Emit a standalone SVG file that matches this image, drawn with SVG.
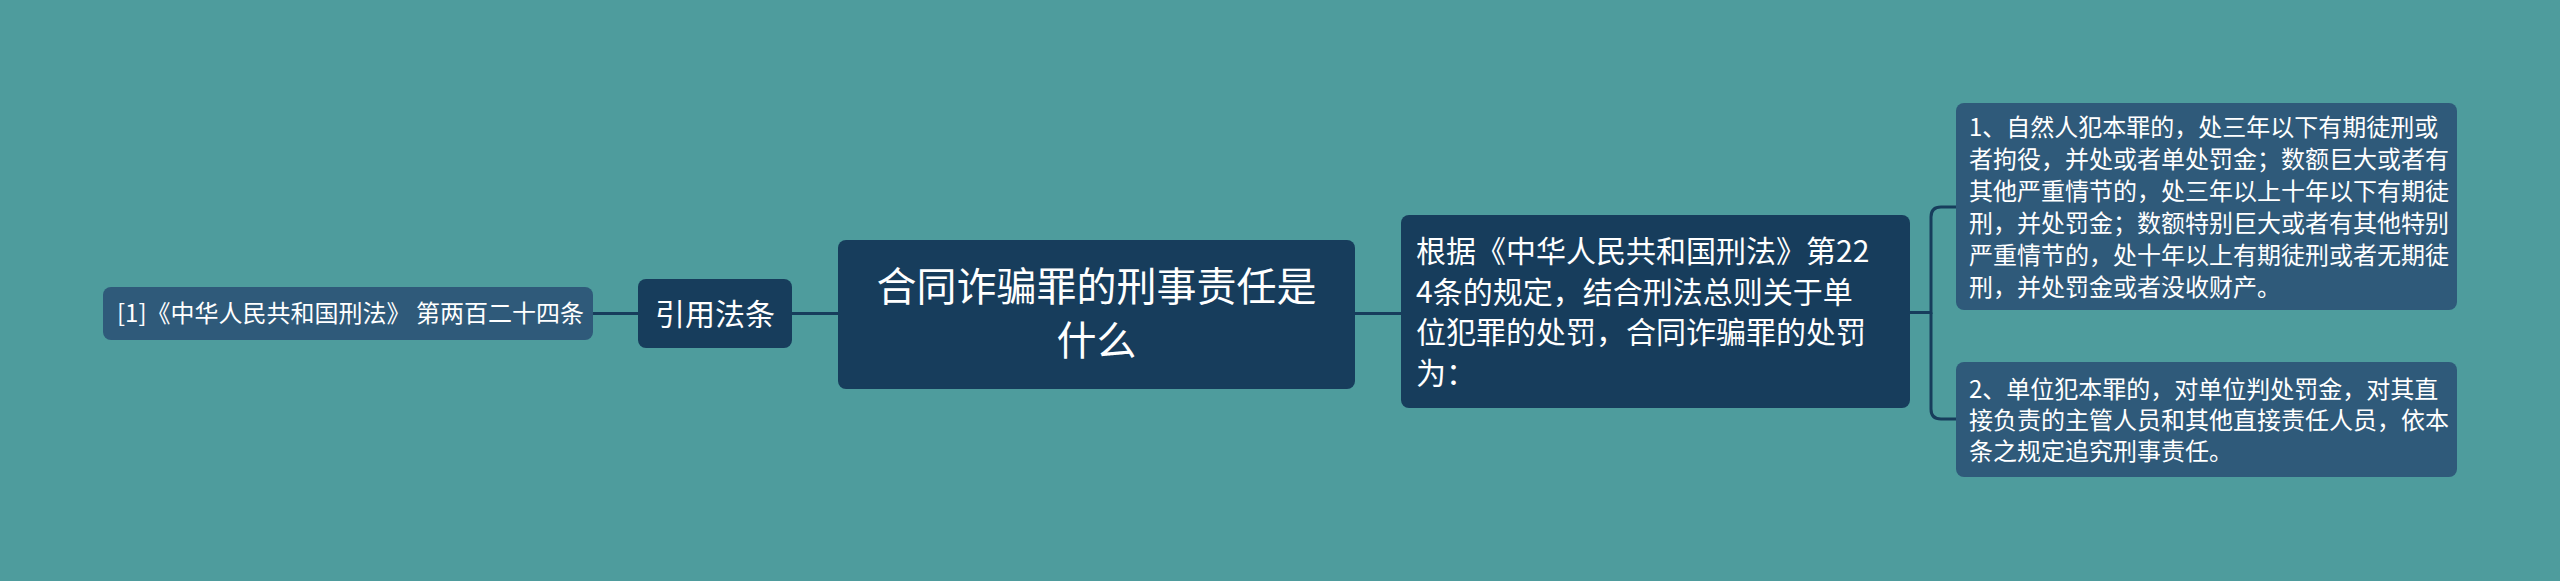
<svg xmlns="http://www.w3.org/2000/svg" width="2560" height="581" viewBox="0 0 2560 581">
<style>
.bg{fill:#4e9c9d}
.dark{fill:#173d5c}
.leaf{fill:#2f5a7a}
.t{font-family:"Noto Sans CJK SC","Noto Sans",sans-serif;fill:#ffffff}
.conn{fill:none;stroke:#173d5c;stroke-width:3}
</style>
<rect class="bg" x="0" y="0" width="2560" height="581"/>
<g id="connectors">
<path class="conn" d="M593,313.5 H638"/>
<path class="conn" d="M792,313.5 H838"/>
<path class="conn" d="M1355,313.5 H1401"/>
<path class="conn" d="M1910,312.5 H1931 V217 Q1931,207 1941,207 H1956"/>
<path class="conn" d="M1931,312.5 V409 Q1931,419 1941,419 H1956"/>
</g>
<g id="node-ref">
<rect class="leaf" x="103" y="287" width="490" height="53" rx="8"/>
<text class="t" x="117" y="322" font-size="24">[1]《中华人民共和国刑法》 第两百二十四条</text>
</g>
<g id="node-yinyong">
<rect class="dark" x="638" y="279" width="154" height="69" rx="8"/>
<text class="t" x="715" y="325" font-size="30" text-anchor="middle">引用法条</text>
</g>
<g id="node-root">
<rect class="dark" x="838" y="240" width="517" height="149" rx="8"/>
<text class="t" font-size="40" text-anchor="middle"><tspan x="1096.5" y="301">合同诈骗罪的刑事责任是</tspan><tspan x="1096.5" y="355">什么</tspan></text>
</g>
<g id="node-main">
<rect class="dark" x="1401" y="215" width="509" height="193" rx="8"/>
<text class="t" font-size="30"><tspan x="1416" y="262">根据《中华人民共和国刑法》第22</tspan><tspan x="1416" y="303">4条的规定，结合刑法总则关于单</tspan><tspan x="1416" y="343">位犯罪的处罚，合同诈骗罪的处罚</tspan><tspan x="1416" y="384">为：</tspan></text>
</g>
<g id="node-item1">
<rect class="leaf" x="1956" y="103" width="501" height="207" rx="8"/>
<text class="t" font-size="24"><tspan x="1969" y="136">1、自然人犯本罪的，处三年以下有期徒刑或</tspan><tspan x="1969" y="168">者拘役，并处或者单处罚金；数额巨大或者有</tspan><tspan x="1969" y="200">其他严重情节的，处三年以上十年以下有期徒</tspan><tspan x="1969" y="232">刑，并处罚金；数额特别巨大或者有其他特别</tspan><tspan x="1969" y="264">严重情节的，处十年以上有期徒刑或者无期徒</tspan><tspan x="1969" y="296">刑，并处罚金或者没收财产。</tspan></text>
</g>
<g id="node-item2">
<rect class="leaf" x="1956" y="362" width="501" height="115" rx="8"/>
<text class="t" font-size="24"><tspan x="1969" y="398">2、单位犯本罪的，对单位判处罚金，对其直</tspan><tspan x="1969" y="429">接负责的主管人员和其他直接责任人员，依本</tspan><tspan x="1969" y="460">条之规定追究刑事责任。</tspan></text>
</g>
</svg>
